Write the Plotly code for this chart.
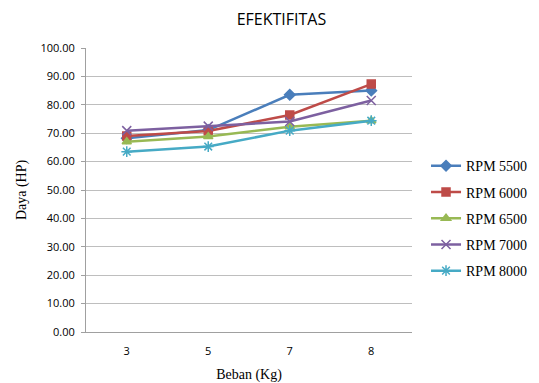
import plotly.graph_objects as go

categories = ["3", "5", "7", "8"]
rpm5500 = [68.2, 71.1, 83.5, 85.0]
rpm6000 = [69.0, 70.8, 76.4, 87.3]
rpm6500 = [67.0, 68.8, 72.3, 74.4]
rpm7000 = [70.9, 72.5, 74.1, 81.5]
rpm8000 = [63.5, 65.3, 70.9, 74.4]
names = ["RPM 5500", "RPM 6000", "RPM 6500", "RPM 7000", "RPM 8000"]
y_ticks = [0, 10, 20, 30, 40, 50, 60, 70, 80, 90, 100]

series = [rpm5500, rpm6000, rpm6500, rpm7000, rpm8000]
colors = ["#4A7EBB", "#BE4B48", "#98B954", "#7D60A0", "#46AAC5"]
symbols = ["diamond", "square", "triangle-up", "x-thin-open", "asterisk-open"]
sizes = [8, 8, 8, 9, 9]

fig = go.Figure()
for n, s, c, sym, sz in zip(names, series, colors, symbols, sizes):
    fig.add_trace(go.Scatter(
        x=categories, y=s, name=n, mode="lines+markers", legendgroup=n,
        line=dict(color=c, width=2.5),
        marker=dict(symbol=sym, size=sz, color=c, line=dict(color=c, width=1.5)),
    ))

fig.update_layout(
    width=531, height=375,
    margin=dict(l=78, r=127, t=40, b=51, autoexpand=False),
    paper_bgcolor="white", plot_bgcolor="white",
    title=dict(text="EFEKTIFITAS", x=0.515, xanchor="center", y=0.97, yanchor="middle",
               font=dict(family="Open Sans, Liberation Sans, sans-serif", size=16, color="#000000")),
    legend=dict(x=1.043, xanchor="left", y=0.64, yanchor="top",
                font=dict(family="Liberation Serif, serif", size=14, color="#000000"),
                tracegroupgap=5, itemwidth=30),
    showlegend=True,
)
fig.update_xaxes(
    type="category", range=[-0.5, 3.5], showgrid=False, showline=True, linecolor="#A0A0A0", linewidth=1,
    ticks="", ticklabelstandoff=9,
    tickfont=dict(family="Open Sans, Liberation Sans, sans-serif", size=11, color="#000000"),
    title=dict(text="Beban (Kg)", font=dict(family="Liberation Serif, serif", size=14, color="#000000"), standoff=11),
)
fig.update_yaxes(
    range=[0, 100], tickvals=y_ticks, ticktext=[f"{v:.2f}" for v in y_ticks],
    showgrid=True, gridcolor="#BEBEBE", gridwidth=1,
    showline=True, linecolor="#A0A0A0", linewidth=1,
    ticks="outside", ticklen=4, tickcolor="#A0A0A0", ticklabelstandoff=4,
    tickfont=dict(family="Open Sans, Liberation Sans, sans-serif", size=11, color="#000000"),
    title=dict(text="Daya (HP)", font=dict(family="Liberation Serif, serif", size=14, color="#000000"), standoff=10),
    zeroline=False,
)

fig.write_html("out.html")
